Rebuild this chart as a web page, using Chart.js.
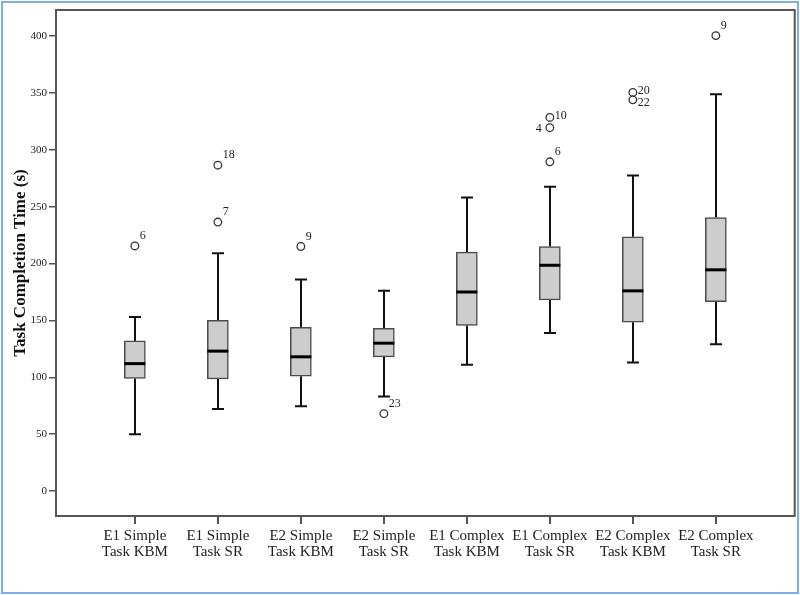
<!DOCTYPE html>
<html>
<head>
<meta charset="utf-8">
<script src="https://cdn.jsdelivr.net/npm/chart.js@4.4.1/dist/chart.umd.min.js"></script>
<style>
  html, body { margin: 0; padding: 0; background: #fff; }
  #wrap { width: 800px; height: 595px; position: relative; }
</style>
</head>
<body>
<div id="wrap"><canvas id="myChart" width="800" height="595"></canvas></div>
<script>
// groups on the x axis
const categories = [
    ["E1 Simple", "Task KBM"],
    ["E1 Simple", "Task SR"],
    ["E2 Simple", "Task KBM"],
    ["E2 Simple", "Task SR"],
    ["E1 Complex", "Task KBM"],
    ["E1 Complex", "Task SR"],
    ["E2 Complex", "Task KBM"],
    ["E2 Complex", "Task SR"]
];

// box plot summaries (seconds)
const whiskerLow  = [50, 72, 74.5, 83, 111, 139, 113, 129];
const q1          = [99, 98.5, 101, 118, 145.5, 168, 148.5, 166.5];
const median      = [112, 123, 118, 130, 175, 198.5, 176, 194.5];
const q3          = [132, 150, 144, 143, 210, 215, 223.5, 240.5];
const whiskerHigh = [153, 209, 186, 176, 258, 267.5, 277.5, 349];

// outliers: group index (1-based), value, case number
const outlierGroup = [1, 2, 2, 3, 4, 6, 6, 6, 7, 7, 8];
const outlierValue = [215.5, 286.5, 236.5, 215, 68, 328.5, 319.5, 289.5, 350.5, 344, 400.5];
const outlierCase  = ["6", "18", "7", "9", "23", "10", "4", "6", "20", "22", "9"];
const outlierSide  = ["ur", "ur", "ur", "ur", "ur", "r", "l", "ur", "r", "dr", "ur"];

const yTicks = [0, 50, 100, 150, 200, 250, 300, 350, 400];

const serif = "'Liberation Serif', 'Times New Roman', serif";
const axisColor = '#555';

const boxPlotPlugin = {
    id: 'boxPlot',
    beforeDraw(chart) {
        const c = chart.ctx;
        c.save();
        c.fillStyle = '#fff';
        c.fillRect(0, 0, chart.width, chart.height);
        c.strokeStyle = '#7fb0e2';
        c.lineWidth = 2;
        c.strokeRect(2, 2, chart.width - 4, chart.height - 4);
        c.restore();
    },
    beforeDatasetsDraw(chart) {
        // whiskers + caps behind the boxes
        const c = chart.ctx, x = chart.scales.x, y = chart.scales.y;
        c.save();
        c.strokeStyle = '#111';
        c.lineWidth = 2;
        for (let i = 0; i < categories.length; i++) {
            const px = Math.round(x.getPixelForValue(i + 1));
            const lo = y.getPixelForValue(whiskerLow[i]);
            const hi = y.getPixelForValue(whiskerHigh[i]);
            c.beginPath();
            c.moveTo(px, y.getPixelForValue(q1[i]));
            c.lineTo(px, lo);
            c.moveTo(px, y.getPixelForValue(q3[i]));
            c.lineTo(px, hi);
            c.moveTo(px - 6, lo); c.lineTo(px + 6, lo);
            c.moveTo(px - 6, hi); c.lineTo(px + 6, hi);
            c.stroke();
        }
        c.restore();
    },
    afterDatasetsDraw(chart) {
        const c = chart.ctx, x = chart.scales.x, y = chart.scales.y;
        c.save();
        // medians
        c.strokeStyle = '#000';
        c.lineWidth = 3;
        for (let i = 0; i < categories.length; i++) {
            const px = x.getPixelForValue(i + 1);
            const py = y.getPixelForValue(median[i]);
            c.beginPath();
            c.moveTo(px - 10.5, py);
            c.lineTo(px + 10.5, py);
            c.stroke();
        }
        // outlier case numbers
        c.fillStyle = '#222';
        c.font = '12px ' + serif;
        c.textBaseline = 'middle';
        outlierValue.forEach((v, i) => {
            const px = x.getPixelForValue(outlierGroup[i]);
            const py = y.getPixelForValue(v);
            const side = outlierSide[i];
            if (side === 'l') {
                c.textAlign = 'right';
                c.fillText(outlierCase[i], px - 8, py + 1);
            } else {
                c.textAlign = 'left';
                const dy = side === 'ur' ? -10 : (side === 'dr' ? 3 : -2);
                c.fillText(outlierCase[i], px + 5, py + dy);
            }
        });
        // plot frame
        const a = chart.chartArea;
        c.strokeStyle = axisColor;
        c.lineWidth = 2;
        c.strokeRect(a.left, a.top, a.right - a.left, a.bottom - a.top);
        c.restore();
    }
};

const myChart = new Chart(document.getElementById('myChart').getContext('2d'), {
    type: 'bar',
    data: {
        datasets: [{
            label: 'IQR',
            data: categories.map((_, i) => ({ x: i + 1, y: [q1[i], q3[i]] })),
            backgroundColor: '#cdcdcd',
            borderColor: '#4a4a4a',
            borderWidth: 1.5,
            borderSkipped: false,
            barThickness: 21,
            order: 2
        }, {
            type: 'scatter',
            label: 'Outliers',
            data: outlierValue.map((v, i) => ({ x: outlierGroup[i], y: v })),
            pointStyle: 'circle',
            pointRadius: 3.8,
            pointBackgroundColor: '#fff',
            pointBorderColor: '#333',
            pointBorderWidth: 1.3,
            order: 1
        }]
    },
    options: {
        responsive: false,
        animation: false,
        layout: { padding: { top: 10, right: 5, left: 0, bottom: 0 } },
        plugins: {
            legend: { display: false },
            tooltip: { enabled: false }
        },
        scales: {
            x: {
                type: 'linear',
                offset: false,
                min: 0.05,
                max: 8.95,
                afterBuildTicks: (s) => { s.ticks = categories.map((_, i) => ({ value: i + 1 })); },
                afterFit: (s) => { s.height = 79; },
                ticks: {
                    callback: (v) => categories[v - 1],
                    color: '#222',
                    font: { family: serif, size: 15, lineHeight: 1.07 },
                    padding: 4,
                    maxRotation: 0,
                    autoSkip: false
                },
                grid: { offset: false, drawOnChartArea: false, tickLength: 8, color: axisColor, lineWidth: 2 },
                border: { display: false }
            },
            y: {
                min: -22,
                max: 423,
                afterBuildTicks: (s) => { s.ticks = yTicks.map(v => ({ value: v })); },
                afterFit: (s) => { s.width = 56; },
                ticks: {
                    color: '#222',
                    font: { family: serif, size: 11 },
                    padding: 2
                },
                grid: { drawOnChartArea: false, tickLength: 7, color: axisColor, lineWidth: 1.5 },
                border: { display: false },
                title: {
                    display: true,
                    text: 'Task Completion Time (s)',
                    color: '#111',
                    font: { family: serif, size: 17, weight: 'bold' },
                    padding: { top: 10, bottom: 0 }
                }
            }
        }
    },
    plugins: [boxPlotPlugin]
});
</script>
</body>
</html>
